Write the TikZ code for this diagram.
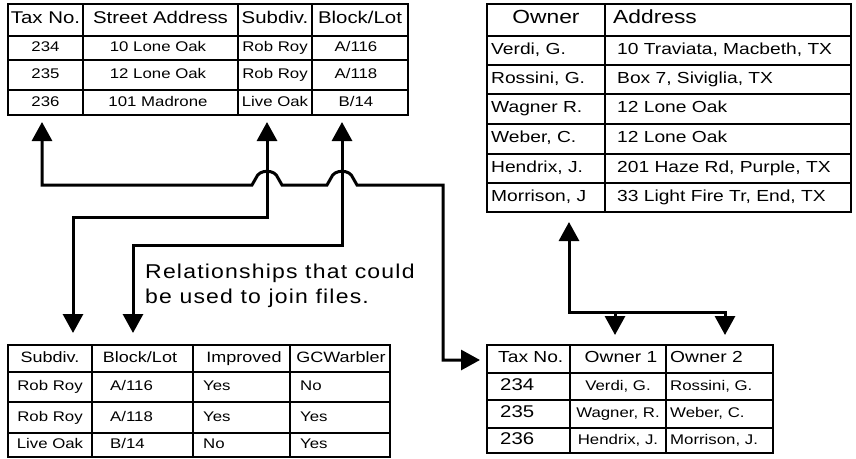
\documentclass[tikz,border=0pt]{standalone}
\usepackage{fontspec}
\setmainfont[FakeStretch=1.2]{Liberation Sans}
\newfontfamily\notefont[FakeStretch=1.15,LetterSpace=6]{Liberation Sans}
\usetikzlibrary{arrows.meta, calc}
\tikzset{
	tablerule/.style = {line width=2.1pt},
	joinline/.style = {line width=3pt, {Triangle[width=20pt,length=19pt]}-{Triangle[width=20pt,length=19pt]}},
	joinend/.style = {line width=3pt, -{Triangle[width=20pt,length=19pt]}},
	cell/.style = {inner sep=0pt, anchor=mid, font=\fontsize{#1}{#1}\selectfont},
	lcell/.style = {cell=#1, anchor=mid west},
}

\begin{document}
\begin{tikzpicture}[x=1pt, y=-1pt]
	\useasboundingbox (0,0) rectangle (856,458);
	% parcel table
	\draw[tablerule] (8,4) rectangle (408,115);
	\draw[tablerule] (8,36) -- (408,36) (8,60) -- (408,60) (8,90) -- (408,90);
	\draw[tablerule] (83,4) -- (83,115) (238,4) -- (238,115) (312,4) -- (312,115);
	\node[cell=17] (pcl-tax) at (45.5,21) {Tax No.};
	\node[cell=17] (pcl-adr) at (160.5,21) {Street Address};
	\node[cell=17] (pcl-sub) at (275,21) {Subdiv.};
	\node[cell=17] (pcl-blk) at (360,21) {Block/Lot};
	\node[cell=14] (pcl11) at (45.5,49) {234};
	\node[cell=14] (pcl12) at (158,49) {10 Lone Oak};
	\node[cell=14] (pcl13) at (275,49) {Rob Roy};
	\node[cell=14] (pcl14) at (356,49) {A/116};
	\node[cell=14] (pcl21) at (45.5,76) {235};
	\node[cell=14] (pcl22) at (158,76) {12 Lone Oak};
	\node[cell=14] (pcl23) at (275,76) {Rob Roy};
	\node[cell=14] (pcl24) at (356,76) {A/118};
	\node[cell=14] (pcl31) at (45.5,103.5) {236};
	\node[cell=14] (pcl32) at (158,103.5) {101 Madrone};
	\node[cell=14] (pcl33) at (275,103.5) {Live Oak};
	\node[cell=14] (pcl34) at (356,103.5) {B/14};
	% owner table
	\draw[tablerule] (487,4) rectangle (851,212);
	\draw[tablerule] (487,36) -- (851,36) (487,65) -- (851,65) (487,94) -- (851,94)
		(487,124) -- (851,124) (487,154) -- (851,154) (487,183) -- (851,183);
	\draw[tablerule] (605,4) -- (605,212);
	\node[cell=19] (own-name) at (546,21) {Owner};
	\node[lcell=19] (own-adr) at (613,21) {Address};
	\node[lcell=16] (own11) at (491,51.5) {Verdi, G.};
	\node[lcell=16] (own12) at (617,51.5) {10 Traviata, Macbeth, TX};
	\node[lcell=16] (own21) at (491,80.5) {Rossini, G.};
	\node[lcell=16] (own22) at (617,80.5) {Box 7, Siviglia, TX};
	\node[lcell=16] (own31) at (491,110) {Wagner R.};
	\node[lcell=16] (own32) at (617,110) {12 Lone Oak};
	\node[lcell=16] (own41) at (491,140) {Weber, C.};
	\node[lcell=16] (own42) at (617,140) {12 Lone Oak};
	\node[lcell=16] (own51) at (491,169.5) {Hendrix, J.};
	\node[lcell=16] (own52) at (617,169.5) {201 Haze Rd, Purple, TX};
	\node[lcell=16] (own61) at (491,198.5) {Morrison, J};
	\node[lcell=16] (own62) at (617,198.5) {33 Light Fire Tr, End, TX};
	% lot table
	\draw[tablerule] (8,345) rectangle (390,457);
	\draw[tablerule] (8,372) -- (390,372) (8,402) -- (390,402) (8,433) -- (390,433);
	\draw[tablerule] (92,345) -- (92,457) (193,345) -- (193,457) (290,345) -- (290,457);
	\node[cell=15] (lot-sub) at (50,359.5) {Subdiv.};
	\node[cell=15] (lot-blk) at (140,359.5) {Block/Lot};
	\node[cell=15] (lot-imp) at (244,359.5) {Improved};
	\node[cell=15] (lot-gcw) at (341,359.5) {GCWarbler};
	\node[cell=14] (lot11) at (50,388) {Rob Roy};
	\node[lcell=14] (lot12) at (110,388) {A/116};
	\node[lcell=14] (lot13) at (203,388) {Yes};
	\node[lcell=14] (lot14) at (300,388) {No};
	\node[cell=14] (lot21) at (50,418.5) {Rob Roy};
	\node[lcell=14] (lot22) at (110,418.5) {A/118};
	\node[lcell=14] (lot23) at (203,418.5) {Yes};
	\node[lcell=14] (lot24) at (300,418.5) {Yes};
	\node[cell=14] (lot31) at (50,446) {Live Oak};
	\node[lcell=14] (lot32) at (110,446) {B/14};
	\node[lcell=14] (lot33) at (203,446) {No};
	\node[lcell=14] (lot34) at (300,446) {Yes};
	% tax/owner table
	\draw[tablerule] (487,345) rectangle (773,453);
	\draw[tablerule] (487,373) -- (773,373) (487,400) -- (773,400) (487,428) -- (773,428);
	\draw[tablerule] (570,345) -- (570,453) (666,345) -- (666,453);
	\node[lcell=16] (tx-tax) at (498,360) {Tax No.};
	\node[cell=16] (tx-o1) at (621,360) {Owner 1};
	\node[lcell=16] (tx-o2) at (670,360) {Owner 2};
	\node[lcell=17] (tx11) at (500,387.5) {234};
	\node[cell=14] (tx12) at (618,387.5) {Verdi, G.};
	\node[lcell=14] (tx13) at (670,387.5) {Rossini, G.};
	\node[lcell=17] (tx21) at (500,415) {235};
	\node[cell=14] (tx22) at (618,415) {Wagner, R.};
	\node[lcell=14] (tx23) at (670,415) {Weber, C.};
	\node[lcell=17] (tx31) at (500,441.5) {236};
	\node[cell=14] (tx32) at (618,441.5) {Hendrix, J.};
	\node[lcell=14] (tx33) at (670,441.5) {Morrison, J.};
	% relationships
	\coordinate (pcl-taxport) at (42,122);
	\coordinate (pcl-subport) at (267,122);
	\coordinate (pcl-blkport) at (342,122);
	\coordinate (lot-subport) at (73,333);
	\coordinate (lot-blkport) at (133,333);
	\coordinate (tx-taxport) at (480,360);
	\coordinate (own-port) at (569,222);
	\coordinate (tx-o1port) at (615,335);
	\coordinate (tx-o2port) at (725,335);
	\draw[joinline] (pcl-taxport) |- (252,185) -- (256,178) .. controls (259,169) and (275,169) .. (278,178) -- (282,185)
		-- (327,185) -- (331,178) .. controls (334,169) and (350,169) .. (353,178) -- (357,185)
		-| (443,360) -- (tx-taxport);
	\draw[joinline] (pcl-subport) -- (267,217) -| (lot-subport);
	\draw[joinline] (pcl-blkport) -- (342,245) -| (lot-blkport);
	\draw[joinline] (own-port) |- (725,312) -- (tx-o2port);
	\draw[joinend] (615,312) -- (tx-o1port);
	\node[inner sep=0pt, anchor=north west, align=left, font=\notefont\fontsize{20}{25}\selectfont] (note) at (145,263.5)
		{Relationships that could\\be used to join files.};
\end{tikzpicture}
\end{document}
